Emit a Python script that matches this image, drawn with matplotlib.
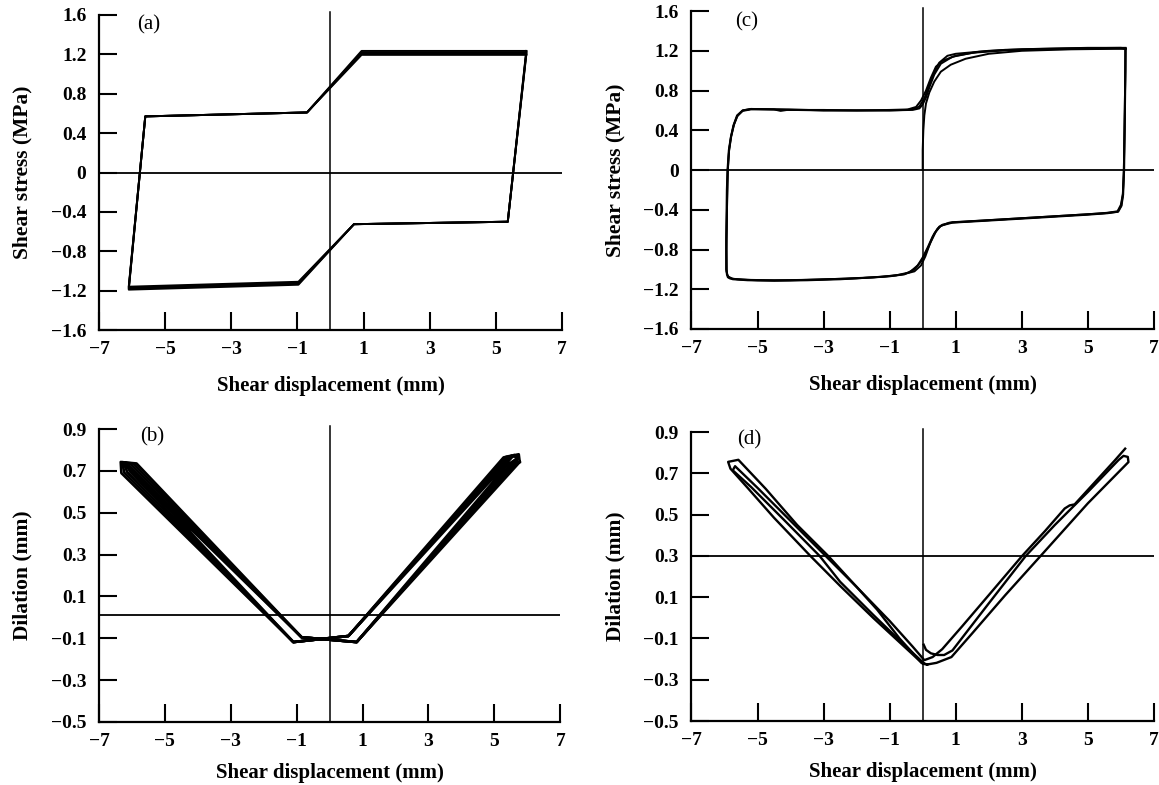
import matplotlib as mpl
import matplotlib.pyplot as plt
mpl.use('Agg')

plt.rcParams['font.family'] = ['Liberation Serif', 'DejaVu Serif']

x_ticks = [-7, -5, -3, -1, 1, 3, 5, 7]
x_labels = ['\u22127', '\u22125', '\u22123', '\u22121', '1', '3', '5', '7']
stress_ticks = [-1.6, -1.2, -0.8, -0.4, 0, 0.4, 0.8, 1.2, 1.6]
stress_labels = ['\u22121.6', '\u22121.2', '\u22120.8', '\u22120.4', '0', '0.4', '0.8', '1.2', '1.6']
dil_ticks = [-0.5, -0.3, -0.1, 0.1, 0.3, 0.5, 0.7, 0.9]
dil_labels = ['\u22120.5', '\u22120.3', '\u22120.1', '0.1', '0.3', '0.5', '0.7', '0.9']

# (a) shear stress, model: loop corners, one row per cycle
a_x = [5.92, 5.36, 0.71, -0.97, -6.10, -5.60, -0.71, 0.94, 5.92]
a_y1 = [1.235, -0.50, -0.525, -1.110, -1.160, 0.57, 0.61, 1.235, 1.235]
a_y2 = [1.222, -0.50, -0.525, -1.120, -1.170, 0.57, 0.61, 1.222, 1.222]
a_y3 = [1.208, -0.50, -0.525, -1.130, -1.180, 0.57, 0.61, 1.208, 1.208]
a_y4 = [1.195, -0.50, -0.525, -1.140, -1.190, 0.57, 0.61, 1.195, 1.195]

# (b) dilation, model
b_x1 = [5.77, 0.82, -0.85, -5.86, -6.34, -6.32, -1.10, 0.57, 5.28, 5.74, 5.77]
b_y1 = [0.743, -0.118, -0.095, 0.736, 0.743, 0.690, -0.118, -0.089, 0.765, 0.780, 0.743]
b_x2 = [5.68, 0.82, -0.85, -5.95, -6.30, -6.23, -1.10, 0.57, 5.36, 5.73, 5.68]
b_y2 = [0.740, -0.118, -0.095, 0.735, 0.742, 0.692, -0.118, -0.089, 0.768, 0.775, 0.740]
b_x3 = [5.59, 0.82, -0.85, -6.04, -6.26, -6.14, -1.10, 0.57, 5.44, 5.72, 5.59]
b_y3 = [0.737, -0.118, -0.095, 0.734, 0.741, 0.694, -0.118, -0.089, 0.771, 0.770, 0.737]
b_x4 = [5.50, 0.82, -0.85, -6.13, -6.22, -6.05, -1.10, 0.57, 5.52, 5.71, 5.50]
b_y4 = [0.734, -0.118, -0.095, 0.733, 0.740, 0.696, -0.118, -0.089, 0.774, 0.765, 0.734]
b_x5 = [5.41, 0.82, -0.85, -6.22, -6.18, -5.96, -1.10, 0.57, 5.60, 5.70, 5.41]
b_y5 = [0.731, -0.118, -0.095, 0.732, 0.739, 0.698, -0.118, -0.089, 0.777, 0.760, 0.731]

# (c) shear stress, test
c_x1 = [0.0, 0.0, 0.02, 0.05, 0.1, 0.2, 0.35, 0.55, 0.85, 1.3, 2.0, 3.0, 4.5, 5.8, 6.14,
        6.14, 6.12, 6.10, 6.07, 6.02, 5.92, 5.6, 5.0, 3.5, 1.7, 0.9, 0.55, 0.4, 0.25, 0.1,
        -0.05, -0.25, -0.55, -1.0, -2.0, -3.0, -4.0, -5.0, -5.6, -5.85, -5.93, -5.94, -5.92,
        -5.90, -5.86, -5.80, -5.72, -5.62, -5.45, -5.2, -4.5, -4.3, -4.1, -3.0, -2.0, -1.0,
        -0.45, -0.2, -0.05, 0.1, 0.25, 0.4, 0.6, 1.0, 1.7, 2.5, 3.5, 5.0, 6.0, 6.14]
c_y1 = [0.0, 0.2, 0.4, 0.55, 0.67, 0.78, 0.89, 0.99, 1.06, 1.12, 1.17, 1.20, 1.215, 1.22, 1.22,
        1.0, 0.5, 0.0, -0.25, -0.36, -0.42, -0.435, -0.45, -0.48, -0.515, -0.53, -0.56, -0.62,
        -0.72, -0.83, -0.92, -1.0, -1.05, -1.07, -1.09, -1.10, -1.11, -1.11, -1.10, -1.09,
        -1.05, -0.8, -0.3, 0.0, 0.2, 0.33, 0.45, 0.54, 0.595, 0.61, 0.61, 0.595, 0.605, 0.605,
        0.60, 0.605, 0.61, 0.635, 0.70, 0.80, 0.93, 1.04, 1.10, 1.15, 1.19, 1.21, 1.22, 1.23,
        1.23, 1.225]
c_x2 = [6.14, 6.13, 6.11, 6.09, 6.06, 6.0, 5.9, 5.6, 5.0, 3.5, 1.7, 0.9, 0.6, 0.45, 0.3, 0.15,
        0.0, -0.15, -0.4, -0.8, -1.5, -2.5, -3.5, -4.5, -5.3, -5.75, -5.9, -5.95, -5.95, -5.93,
        -5.91, -5.87, -5.81, -5.73, -5.62, -5.45, -5.2, -4.0, -3.0, -2.0, -1.0, -0.3, -0.1, 0.0,
        0.1, 0.2, 0.35, 0.55, 0.9, 1.5, 2.5, 3.5, 5.0, 6.0, 6.14]
c_y2 = [1.225, 0.9, 0.4, 0.0, -0.24, -0.35, -0.415, -0.43, -0.445, -0.475, -0.51, -0.525,
        -0.55, -0.59, -0.67, -0.78, -0.88, -0.96, -1.03, -1.06, -1.08, -1.095, -1.105, -1.11,
        -1.105, -1.095, -1.07, -1.0, -0.7, -0.2, 0.0, 0.2, 0.33, 0.45, 0.55, 0.60, 0.615, 0.61,
        0.60, 0.60, 0.60, 0.605, 0.62, 0.66, 0.73, 0.83, 0.96, 1.07, 1.14, 1.18, 1.205, 1.215,
        1.22, 1.225, 1.22]
c_x3 = [6.14, 6.13, 6.11, 6.09, 6.06, 6.01, 5.9, 5.5, 4.5, 3.0, 1.5, 0.8, 0.5, 0.35, 0.22, 0.08,
        -0.05, -0.25, -0.6, -1.2, -2.5, -3.5, -4.5, -5.3, -5.75, -5.9, -5.94, -5.94, -5.92, -5.90,
        -5.86, -5.80, -5.71, -5.6, -5.45, -5.2, -4.0, -3.0, -2.0, -1.0, -0.5, -0.25, -0.1, 0.05,
        0.2, 0.35, 0.5, 0.75, 1.0, 2.0, 3.0, 4.5, 6.0, 6.14]
c_y3 = [1.22, 0.9, 0.4, 0.0, -0.25, -0.36, -0.42, -0.435, -0.455, -0.485, -0.515, -0.53, -0.57,
        -0.64, -0.74, -0.87, -0.96, -1.02, -1.05, -1.075, -1.10, -1.11, -1.115, -1.11, -1.10,
        -1.08, -1.02, -0.7, -0.3, 0.0, 0.2, 0.34, 0.46, 0.55, 0.60, 0.615, 0.605, 0.60, 0.60,
        0.60, 0.605, 0.615, 0.64, 0.72, 0.86, 0.98, 1.08, 1.15, 1.17, 1.20, 1.215, 1.225, 1.23,
        1.23]

# (d) dilation, test
d_x1 = [0.03, 0.10, 0.25, 0.45, 0.65, 0.90, 2.00, 3.12, 4.00, 5.00, 5.93, 6.08, 6.21, 6.23,
        5.00, 3.57, 2.50, 1.50, 0.87, 0.42, 0.14, 0.00, -0.50, -1.50, -2.50, -3.40, -4.50,
        -5.30, -5.82, -5.89, -5.58, -4.75, -3.80, -2.86, -2.00, -1.38, -0.70, -0.03, 0.14]
d_y1 = [-0.130, -0.155, -0.172, -0.180, -0.180, -0.158, 0.070, 0.300, 0.450, 0.610, 0.765,
        0.785, 0.780, 0.755, 0.555, 0.300, 0.110, -0.075, -0.190, -0.218, -0.226, -0.222,
        -0.148, 0.000, 0.155, 0.300, 0.485, 0.630, 0.723, 0.756, 0.766, 0.625, 0.450, 0.300,
        0.150, 0.040, -0.100, -0.218, -0.226]
d_x2 = [0.05, -0.50, -1.50, -2.50, -3.12, -4.20, -5.20, -5.75, -5.68, -5.00, -4.00, -3.00,
        -2.00, -1.00, -0.30, 0.05, 0.30, 0.59, 1.20, 2.00, 3.01, 3.70, 4.30, 4.45, 4.60, 5.20,
        5.80, 6.13]
d_y2 = [-0.222, -0.140, 0.015, 0.175, 0.300, 0.475, 0.635, 0.715, 0.735, 0.630, 0.470, 0.310,
        0.150, -0.015, -0.140, -0.205, -0.190, -0.152, -0.040, 0.110, 0.300, 0.420, 0.530,
        0.545, 0.550, 0.655, 0.760, 0.820]

fig = plt.figure(figsize=(11.59, 7.85), dpi=100)
ax_a = fig.add_axes([0.0854, 0.5796, 0.3995, 0.4013])
ax_c = fig.add_axes([0.5966, 0.5809, 0.3990, 0.4050])
ax_b = fig.add_axes([0.0854, 0.0803, 0.3980, 0.3730])
ax_d = fig.add_axes([0.5966, 0.0815, 0.3990, 0.3680])


def style(ax, yticks, ylabels, ylabel, tag, tag_pos, href, xpad):
    ax.set_xlim(-7, 7)
    ax.set_ylim(yticks[0], yticks[-1])
    ax.axvline(0, ymax=1.01, color='black', lw=1.1, clip_on=False)
    ax.axhline(href, color='black', lw=1.3)
    ax.set_xticks(x_ticks)
    ax.set_xticklabels(x_labels)
    ax.set_yticks(yticks)
    ax.set_yticklabels(ylabels)
    for s in ['top', 'right']:
        ax.spines[s].set_visible(False)
    for s in ['left', 'bottom']:
        ax.spines[s].set_linewidth(1.6)
    ax.tick_params(axis='x', direction='in', length=13, width=1.5, pad=8)
    ax.tick_params(axis='y', direction='in', length=13, width=1.5, pad=9)
    for lab in ax.get_xticklabels() + ax.get_yticklabels():
        lab.set_fontsize(14)
        lab.set_fontweight('bold')
    ax.set_xlabel('Shear displacement (mm)', fontsize=15, fontweight='bold', labelpad=xpad)
    ax.set_ylabel(ylabel, fontsize=15.5, fontweight='bold', labelpad=13)
    ax.text(tag_pos[0], tag_pos[1], tag, transform=ax.transAxes, fontsize=15,
            ha='center', va='center')


for ay in [a_y1, a_y2, a_y3, a_y4]:
    ax_a.plot(a_x, ay, color='black', lw=1.4)
style(ax_a, stress_ticks, stress_labels, 'Shear stress (MPa)', '(a)', (0.107, 0.968), 0, 13)

for bx, by in [(b_x1, b_y1), (b_x2, b_y2), (b_x3, b_y3), (b_x4, b_y4), (b_x5, b_y5)]:
    ax_b.plot(bx, by, color='black', lw=1.9)
style(ax_b, dil_ticks, dil_labels, 'Dilation (mm)', '(b)', (0.115, 0.972), 0.01, 9)

for cx, cy in [(c_x1, c_y1), (c_x2, c_y2), (c_x3, c_y3)]:
    ax_c.plot(cx, cy, color='black', lw=1.4)
style(ax_c, stress_ticks, stress_labels, 'Shear stress (MPa)', '(c)', (0.12, 0.966), 0, 13)

for dx, dy in [(d_x1, d_y1), (d_x2, d_y2)]:
    ax_d.plot(dx, dy, color='black', lw=1.7)
style(ax_d, dil_ticks, dil_labels, 'Dilation (mm)', '(d)', (0.124, 0.975), 0.3, 9)

fig.savefig('out.png', dpi=100)
